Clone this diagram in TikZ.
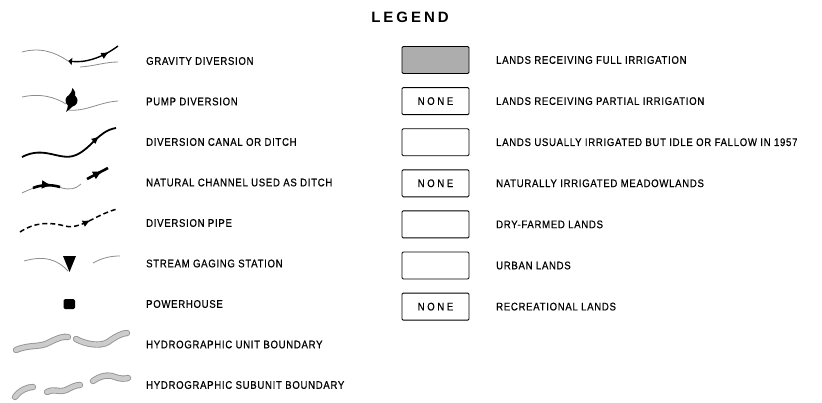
\documentclass[tikz,border=0pt]{standalone}
\usepackage{fontspec}
\setmainfont{Liberation Sans}
\newfontfamily\legfont{Liberation Sans}[FakeStretch = 0.87, LetterSpace = 6.5, FakeBold = 0.6]
\newfontfamily\titlefont{Liberation Sans}[LetterSpace = 20]
\usetikzlibrary{arrows.meta,decorations.markings}
\tikzset{
stream/.style = {black!45, line width = 0.8pt},
canal/.style = {line width = 1.8pt},
bndry/.style = {draw = black!42, double = black!20, double distance = 4.5pt, line width = 0.9pt, line cap = round},
midarrow/.style = {postaction = {decorate}, decoration = {markings, mark = at position #1 with {\arrow{Latex[length = 8pt, width = 7pt]}}}},
bigarrow/.style = {postaction = {decorate}, decoration = {markings, mark = at position #1 with {\arrow{Latex[length = 10pt, width = 9pt]}}}},
labtext/.style = {anchor = west, inner sep = 0pt, font = \legfont\fontsize{11}{11}\selectfont},
landbox/.style = {draw, line width = 0.9pt, rounded corners = 1.2pt, minimum width = 67pt, minimum height = 27pt, inner sep = 0pt, font = \legfont\fontsize{11}{11}\selectfont\addfontfeatures{LetterSpace = 24}}
}
\begin{document}
\begin{tikzpicture}[x = 1pt, y = -1pt]
\useasboundingbox (0,0) rectangle (822,402);
\node [font = \titlefont\bfseries\fontsize{15}{15}\selectfont, inner sep = 0pt] (title) at (410,17.5) {LEGEND};

% left column
\foreach \txt [count = \i from 0] in {GRAVITY DIVERSION, PUMP DIVERSION, DIVERSION CANAL OR DITCH, NATURAL CHANNEL USED AS DITCH, DIVERSION PIPE, STREAM GAGING STATION, POWERHOUSE, HYDROGRAPHIC UNIT BOUNDARY, HYDROGRAPHIC SUBUNIT BOUNDARY}{
\node [labtext] (sym\i) at (146,{61 + 40.5*\i}) {\txt};
}

% right column
\foreach \fil/\inside/\txt [count = \i from 0] in {black!32/{}/LANDS RECEIVING FULL IRRIGATION, white/NONE/LANDS RECEIVING PARTIAL IRRIGATION, white/{}/LANDS USUALLY IRRIGATED BUT IDLE OR FALLOW IN 1957, white/NONE/NATURALLY IRRIGATED MEADOWLANDS, white/{}/DRY-FARMED LANDS, white/{}/URBAN LANDS, white/NONE/RECREATIONAL LANDS}{
\node [landbox, fill = \fil] (box\i) at (435.5,{60 + 41.1*\i}) {\inside};
\node [labtext] (land\i) at (496,{60 + 41.1*\i}) {\txt};
}

% gravity diversion
\draw [stream] (22,52) .. controls (40,47) and (55,52) .. (68,61);
\draw [stream] (80,67) .. controls (95,66) and (105,62) .. (118,62);
\draw [line width = 1.4pt, {Latex[length = 4pt, width = 8pt]}-, midarrow = 0.8] (68,61) .. controls (85,63) and (102,58) .. (118,46);

% pump diversion
\draw [stream] (22,97) .. controls (40,93) and (55,97) .. (66,104);
\draw [stream] (68,110) .. controls (85,112) and (100,102) .. (118,101);
\fill (71.5,100.5) circle (6);
\fill (69,95) .. controls (71,93) and (72,91) .. (72.5,88) .. controls (75,91) and (76,94) .. (75,96) -- cycle;
\fill (68,104) .. controls (68,107) and (67,110) .. (66,112) .. controls (69,110) and (71,108) .. (73,106) -- cycle;

% diversion canal
\draw [canal, midarrow = 0.82] (22,157) .. controls (45,145) and (60,162) .. (76,155) .. controls (92,148) and (98,131) .. (116,128);

% natural channel
\draw [stream] (22,193) .. controls (40,184) and (55,183) .. (62,188) .. controls (70,190) and (76,189) .. (81,184);
\draw [line width = 2.6pt, bigarrow = 0.7] (33,188) .. controls (40,185) and (50,184) .. (60,187);
\draw [line width = 2.6pt, bigarrow = 0.75] (87,179) -- (108,168);

% diversion pipe
\draw [line width = 1.5pt, dash pattern = on 5pt off 3pt, midarrow = 0.72] (20,232) .. controls (35,222) and (50,222) .. (65,226) .. controls (80,230) and (95,215) .. (117,209);

% stream gaging station
\draw [stream] (24,261) .. controls (45,255) and (58,260) .. (68,271);
\fill (63,256) -- (76,256) -- (69.5,272) -- cycle;
\draw [stream] (93,263) .. controls (102,258) and (110,256) .. (120,256);

% powerhouse
\fill [rounded corners = 1.5pt] (63.5,299) rectangle (75,309);

% hydrographic unit boundary
\draw [bndry] (16,350) .. controls (30,344) and (40,348) .. (50,342) .. controls (58,338) and (64,336) .. (68,337);
\draw [bndry] (76,339) .. controls (85,344) and (100,347) .. (108,342) .. controls (115,337) and (122,333) .. (127,333);

% hydrographic subunit boundary
\draw [bndry] (15,397) .. controls (20,390) and (28,387) .. (33,387);
\draw [bndry] (47,392) .. controls (55,388) and (58,393) .. (66,390) .. controls (72,387) and (76,385) .. (80,385);
\draw [bndry] (93,381) .. controls (100,376) and (108,374) .. (115,377) .. controls (120,379) and (125,379) .. (128,378);
\end{tikzpicture}
\end{document}
